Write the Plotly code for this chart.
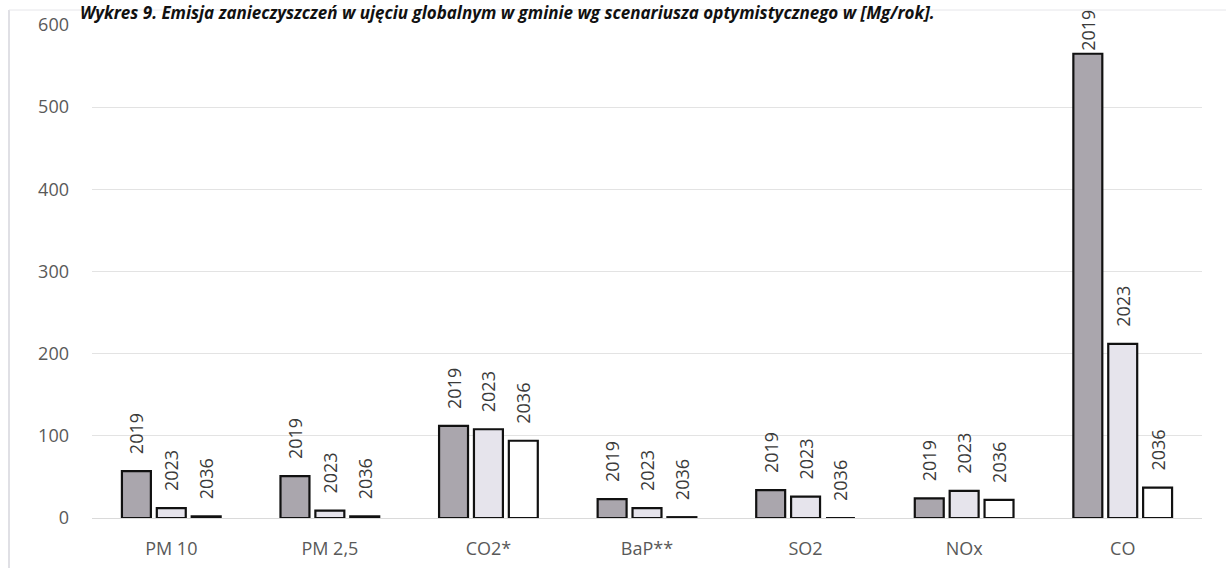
import plotly.graph_objects as go

categories = ["PM 10", "PM 2,5", "CO2*", "BaP**", "SO2", "NOx", "CO"]
years = ["2019", "2023", "2036"]
v2019 = [57, 51, 112, 23, 34, 24, 565]
v2023 = [12, 9, 108, 12, 26, 33, 212]
v2036 = [2, 2, 94, 1, 0, 22, 37]
fills = ["#aaa6ad", "#e6e4ec", "#ffffff"]
title_text = ("Wykres 9. Emisja zanieczyszczeń w ujęciu globalnym w gminie "
              "wg scenariusza optymistycznego w [Mg/rok].")

W, H = 1226, 568
ml, mr, mt, mb = 92, 24, 25, 50
pw, ph = W - ml - mr, H - mt - mb

fig = go.Figure()
for name, vals, col in zip(years, [v2019, v2023, v2036], fills):
    labels = [("" if v > 520 else "\u00a0\u00a0\u00a0") + name for v in vals]
    fig.add_trace(go.Bar(
        x=categories, y=vals, name=name,
        marker=dict(color=col, line=dict(color="#111111", width=2.2)),
        text=labels, textposition="outside", textangle=-90,
        constraintext="none",
        textfont=dict(family="Open Sans", size=18, color="#3a3a3a"),
        cliponaxis=False,
    ))

fig.update_layout(
    width=W, height=H,
    margin=dict(l=ml, r=mr, t=mt, b=mb, autoexpand=False),
    paper_bgcolor="white", plot_bgcolor="white",
    barmode="group", bargap=0.34, bargroupgap=0.17,
    showlegend=False,
    font=dict(family="Open Sans", color="#595959", size=18),
    xaxis=dict(showgrid=False, showline=False, ticks="", automargin=False,
               tickfont=dict(size=18, color="#595959"), ticklabelstandoff=18),
    yaxis=dict(range=[0, 600], tickvals=[0, 100, 200, 300, 400, 500, 600],
               showgrid=True, gridcolor="#e3e3e3", gridwidth=1, zeroline=True,
               zerolinecolor="#dadada", zerolinewidth=1, showline=False,
               automargin=False,
               tickfont=dict(size=18, color="#595959"), ticklabelstandoff=22),
)

fig.add_shape(type="line", xref="paper", yref="paper",
              x0=-(ml - 9) / pw, x1=-(ml - 9) / pw,
              y0=-mb / ph, y1=1 + (mt - 10) / ph,
              line=dict(color="#d6d6dc", width=1.5))
fig.add_shape(type="line", xref="paper", yref="paper",
              x0=-(ml - 9) / pw, x1=1 + mr / pw,
              y0=1 + (mt - 10) / ph, y1=1 + (mt - 10) / ph,
              line=dict(color="#e6e6ea", width=1))

fig.add_annotation(text="<b><i>" + title_text + "</i></b>", xref="paper", yref="paper",
                   x=-(ml - 78) / pw, y=1 + (mt + 1) / ph,
                   xanchor="left", yanchor="top", showarrow=False,
                   font=dict(family="Open Sans", size=17, color="#111111"))

fig.write_html("out.html")
